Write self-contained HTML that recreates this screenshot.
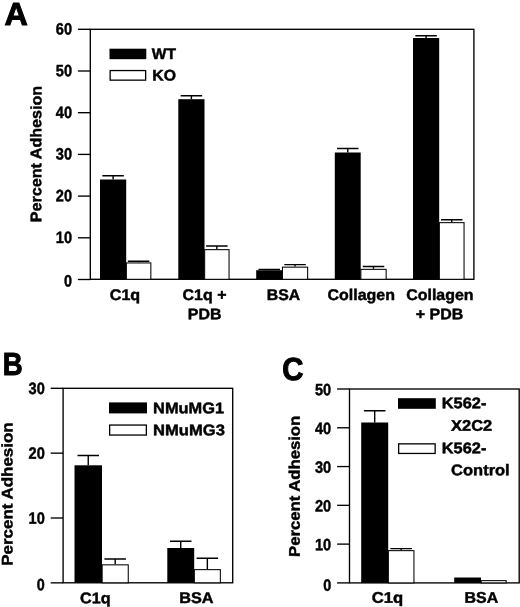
<!DOCTYPE html>
<html><head><meta charset="utf-8"><title>Figure</title>
<style>
html,body{margin:0;padding:0;background:#fff;}
svg{display:block;}
text{font-family:"Liberation Sans",Arial,sans-serif;font-weight:bold;fill:#000;stroke:#000;text-rendering:geometricPrecision;}
.t{font-size:15.4px;stroke-width:0.45px;}
.p{font-size:32px;stroke-width:1px;}
.n{font-size:16.4px;stroke-width:0.45px;}
</style></head><body>
<svg width="520" height="607" viewBox="0 0 520 607">
<rect width="520" height="607" fill="#fff"/>
<text class="p" transform="translate(4.60,25.00) rotate(0.04)" textLength="23.30" lengthAdjust="spacingAndGlyphs">A</text>
<rect x="90.3" y="29.3" width="383.59999999999997" height="250.0" fill="none" stroke="#000" stroke-width="1.35"/>
<path d="M77.90 29.30H90.3" stroke="#000" stroke-width="1.35"/>
<text class="n" transform="translate(55.80,34.50) rotate(0.04)" textLength="16.20" lengthAdjust="spacingAndGlyphs">60</text>
<path d="M77.90 71.00H90.3" stroke="#000" stroke-width="1.35"/>
<text class="n" transform="translate(55.80,76.20) rotate(0.04)" textLength="16.20" lengthAdjust="spacingAndGlyphs">50</text>
<path d="M77.90 112.70H90.3" stroke="#000" stroke-width="1.35"/>
<text class="n" transform="translate(55.80,117.90) rotate(0.04)" textLength="16.20" lengthAdjust="spacingAndGlyphs">40</text>
<path d="M77.90 154.40H90.3" stroke="#000" stroke-width="1.35"/>
<text class="n" transform="translate(55.80,159.60) rotate(0.04)" textLength="16.20" lengthAdjust="spacingAndGlyphs">30</text>
<path d="M77.90 196.10H90.3" stroke="#000" stroke-width="1.35"/>
<text class="n" transform="translate(55.80,201.30) rotate(0.04)" textLength="16.20" lengthAdjust="spacingAndGlyphs">20</text>
<path d="M77.90 237.80H90.3" stroke="#000" stroke-width="1.35"/>
<text class="n" transform="translate(55.80,243.00) rotate(0.04)" textLength="16.20" lengthAdjust="spacingAndGlyphs">10</text>
<path d="M77.90 279.50H90.3" stroke="#000" stroke-width="1.35"/>
<text class="n" transform="translate(64.00,286.40) rotate(0.04)" textLength="8.00" lengthAdjust="spacingAndGlyphs">0</text>
<text class="t" transform="translate(41.30,222.20) rotate(-89.96)" textLength="136.40" lengthAdjust="spacingAndGlyphs">Percent Adhesion</text>
<rect x="109.5" y="48.7" width="36.8" height="10.5" fill="#000"/>
<rect x="110.15" y="70.55" width="35.5" height="9.6" fill="#fff" stroke="#000" stroke-width="1.3"/>
<text class="t" transform="translate(151.80,59.00) rotate(0.04)" textLength="24.20" lengthAdjust="spacingAndGlyphs">WT</text>
<text class="t" transform="translate(152.30,80.40) rotate(0.04)" textLength="23.70" lengthAdjust="spacingAndGlyphs">KO</text>
<path d="M113.10 179.50V175.70M102.35 175.70H123.85" stroke="#000" stroke-width="1.4" fill="none"/>
<rect x="100.00" y="179.50" width="26.20" height="99.80" fill="#000"/>
<path d="M138.60 262.30V261.20M127.85 261.20H149.35" stroke="#000" stroke-width="1.4" fill="none"/>
<rect x="126.35" y="262.95" width="24.50" height="16.35" fill="#fff" stroke="#000" stroke-width="1.05"/>
<path d="M191.40 99.20V95.80M180.65 95.80H202.15" stroke="#000" stroke-width="1.4" fill="none"/>
<rect x="178.30" y="99.20" width="26.20" height="180.10" fill="#000"/>
<path d="M216.85 249.00V246.00M206.10 246.00H227.60" stroke="#000" stroke-width="1.4" fill="none"/>
<rect x="204.65" y="249.65" width="24.40" height="29.65" fill="#fff" stroke="#000" stroke-width="1.05"/>
<path d="M269.25 270.20V269.40M258.50 269.40H280.00" stroke="#000" stroke-width="1.4" fill="none"/>
<rect x="256.20" y="270.20" width="26.10" height="9.10" fill="#000"/>
<path d="M295.05 266.50V264.60M284.30 264.60H305.80" stroke="#000" stroke-width="1.4" fill="none"/>
<rect x="282.45" y="267.15" width="25.20" height="12.15" fill="#fff" stroke="#000" stroke-width="1.05"/>
<path d="M347.75 152.50V148.50M337.00 148.50H358.50" stroke="#000" stroke-width="1.4" fill="none"/>
<rect x="334.80" y="152.50" width="25.90" height="126.80" fill="#000"/>
<path d="M373.50 268.70V266.50M362.75 266.50H384.25" stroke="#000" stroke-width="1.4" fill="none"/>
<rect x="360.85" y="269.35" width="25.30" height="9.95" fill="#fff" stroke="#000" stroke-width="1.05"/>
<path d="M426.10 38.00V35.80M415.35 35.80H436.85" stroke="#000" stroke-width="1.4" fill="none"/>
<rect x="413.00" y="38.00" width="26.20" height="241.30" fill="#000"/>
<path d="M451.70 222.00V219.80M440.95 219.80H462.45" stroke="#000" stroke-width="1.4" fill="none"/>
<rect x="439.35" y="222.65" width="24.70" height="56.65" fill="#fff" stroke="#000" stroke-width="1.05"/>
<text class="t" transform="translate(109.80,299.90) rotate(0.04)" textLength="30.40" lengthAdjust="spacingAndGlyphs">C1q</text>
<text class="t" transform="translate(182.60,299.90) rotate(0.04)" textLength="43.90" lengthAdjust="spacingAndGlyphs">C1q +</text>
<text class="t" transform="translate(187.80,319.20) rotate(0.04)" textLength="33.60" lengthAdjust="spacingAndGlyphs">PDB</text>
<text class="t" transform="translate(266.80,299.90) rotate(0.04)" textLength="33.40" lengthAdjust="spacingAndGlyphs">BSA</text>
<text class="t" transform="translate(327.50,299.90) rotate(0.04)" textLength="67.50" lengthAdjust="spacingAndGlyphs">Collagen</text>
<text class="t" transform="translate(406.20,299.90) rotate(0.04)" textLength="67.40" lengthAdjust="spacingAndGlyphs">Collagen</text>
<text class="t" transform="translate(415.80,319.20) rotate(0.04)" textLength="47.40" lengthAdjust="spacingAndGlyphs">+ PDB</text>
<text class="p" transform="translate(2.80,375.00) rotate(0.04)" textLength="19.90" lengthAdjust="spacingAndGlyphs">B</text>
<rect x="63.1" y="388.3" width="169.6" height="194.49999999999994" fill="none" stroke="#000" stroke-width="1.35"/>
<path d="M50.70 388.30H63.1" stroke="#000" stroke-width="1.35"/>
<text class="n" transform="translate(28.60,394.00) rotate(0.04)" textLength="16.20" lengthAdjust="spacingAndGlyphs">30</text>
<path d="M50.70 453.15H63.1" stroke="#000" stroke-width="1.35"/>
<text class="n" transform="translate(28.60,458.85) rotate(0.04)" textLength="16.20" lengthAdjust="spacingAndGlyphs">20</text>
<path d="M50.70 518.00H63.1" stroke="#000" stroke-width="1.35"/>
<text class="n" transform="translate(28.60,523.70) rotate(0.04)" textLength="16.20" lengthAdjust="spacingAndGlyphs">10</text>
<path d="M50.70 582.85H63.1" stroke="#000" stroke-width="1.35"/>
<text class="n" transform="translate(36.80,590.25) rotate(0.04)" textLength="8.00" lengthAdjust="spacingAndGlyphs">0</text>
<text class="t" transform="translate(12.50,565.70) rotate(-89.96)" textLength="143.30" lengthAdjust="spacingAndGlyphs">Percent Adhesion</text>
<rect x="109" y="402.4" width="38" height="11" fill="#000"/>
<rect x="109.65" y="425.05" width="36.7" height="10" fill="#fff" stroke="#000" stroke-width="1.3"/>
<text class="t" transform="translate(153.10,413.20) rotate(0.04)" textLength="71.00" lengthAdjust="spacingAndGlyphs">NMuMG1</text>
<text class="t" transform="translate(153.10,435.20) rotate(0.04)" textLength="71.80" lengthAdjust="spacingAndGlyphs">NMuMG3</text>
<path d="M88.25 465.30V455.50M77.50 455.50H99.00" stroke="#000" stroke-width="1.4" fill="none"/>
<rect x="74.50" y="465.30" width="27.50" height="117.50" fill="#000"/>
<path d="M115.20 564.20V559.00M104.45 559.00H125.95" stroke="#000" stroke-width="1.4" fill="none"/>
<rect x="102.15" y="564.85" width="26.10" height="17.95" fill="#fff" stroke="#000" stroke-width="1.05"/>
<path d="M180.75 548.00V541.20M170.00 541.20H191.50" stroke="#000" stroke-width="1.4" fill="none"/>
<rect x="167.30" y="548.00" width="26.90" height="34.80" fill="#000"/>
<path d="M207.35 569.00V558.20M196.60 558.20H218.10" stroke="#000" stroke-width="1.4" fill="none"/>
<rect x="194.35" y="569.65" width="26.00" height="13.15" fill="#fff" stroke="#000" stroke-width="1.05"/>
<text class="t" transform="translate(80.10,603.30) rotate(0.04)" textLength="30.50" lengthAdjust="spacingAndGlyphs">C1q</text>
<text class="t" transform="translate(179.20,603.10) rotate(0.04)" textLength="34.30" lengthAdjust="spacingAndGlyphs">BSA</text>
<text class="p" transform="translate(282.30,380.00) rotate(0.04)" textLength="21.20" lengthAdjust="spacingAndGlyphs">C</text>
<rect x="349.5" y="389" width="169.70000000000005" height="193.89999999999998" fill="none" stroke="#000" stroke-width="1.35"/>
<path d="M337.10 389.00H349.5" stroke="#000" stroke-width="1.35"/>
<text class="n" transform="translate(315.00,395.20) rotate(0.04)" textLength="16.20" lengthAdjust="spacingAndGlyphs">50</text>
<path d="M337.10 427.78H349.5" stroke="#000" stroke-width="1.35"/>
<text class="n" transform="translate(315.00,433.98) rotate(0.04)" textLength="16.20" lengthAdjust="spacingAndGlyphs">40</text>
<path d="M337.10 466.56H349.5" stroke="#000" stroke-width="1.35"/>
<text class="n" transform="translate(315.00,472.76) rotate(0.04)" textLength="16.20" lengthAdjust="spacingAndGlyphs">30</text>
<path d="M337.10 505.34H349.5" stroke="#000" stroke-width="1.35"/>
<text class="n" transform="translate(315.00,511.54) rotate(0.04)" textLength="16.20" lengthAdjust="spacingAndGlyphs">20</text>
<path d="M337.10 544.12H349.5" stroke="#000" stroke-width="1.35"/>
<text class="n" transform="translate(315.00,550.32) rotate(0.04)" textLength="16.20" lengthAdjust="spacingAndGlyphs">10</text>
<path d="M337.10 582.90H349.5" stroke="#000" stroke-width="1.35"/>
<text class="n" transform="translate(323.20,590.80) rotate(0.04)" textLength="8.00" lengthAdjust="spacingAndGlyphs">0</text>
<text class="t" transform="translate(299.70,557.00) rotate(-89.96)" textLength="141.20" lengthAdjust="spacingAndGlyphs">Percent Adhesion</text>
<rect x="398" y="398.2" width="37.8" height="10.6" fill="#000"/>
<rect x="398.65" y="443.85" width="36.5" height="9.6" fill="#fff" stroke="#000" stroke-width="1.3"/>
<text class="t" transform="translate(441.80,408.30) rotate(0.04)" textLength="44.60" lengthAdjust="spacingAndGlyphs">K562-</text>
<text class="t" transform="translate(451.10,430.80) rotate(0.04)" textLength="41.10" lengthAdjust="spacingAndGlyphs">X2C2</text>
<text class="t" transform="translate(441.80,453.30) rotate(0.04)" textLength="44.60" lengthAdjust="spacingAndGlyphs">K562-</text>
<text class="t" transform="translate(451.10,475.30) rotate(0.04)" textLength="58.60" lengthAdjust="spacingAndGlyphs">Control</text>
<path d="M374.70 422.50V410.70M363.95 410.70H385.45" stroke="#000" stroke-width="1.4" fill="none"/>
<rect x="361.20" y="422.50" width="27.00" height="160.40" fill="#000"/>
<path d="M401.15 550.00V548.60M390.40 548.60H411.90" stroke="#000" stroke-width="1.4" fill="none"/>
<rect x="388.35" y="550.65" width="25.60" height="32.25" fill="#fff" stroke="#000" stroke-width="1.05"/>
<rect x="454.20" y="577.50" width="26.80" height="5.40" fill="#000"/>
<rect x="481.15" y="580.65" width="25.00" height="2.25" fill="#fff" stroke="#000" stroke-width="1.05"/>
<text class="t" transform="translate(371.80,602.70) rotate(0.04)" textLength="31.40" lengthAdjust="spacingAndGlyphs">C1q</text>
<text class="t" transform="translate(464.60,602.80) rotate(0.04)" textLength="33.60" lengthAdjust="spacingAndGlyphs">BSA</text>
</svg>
</body></html>
